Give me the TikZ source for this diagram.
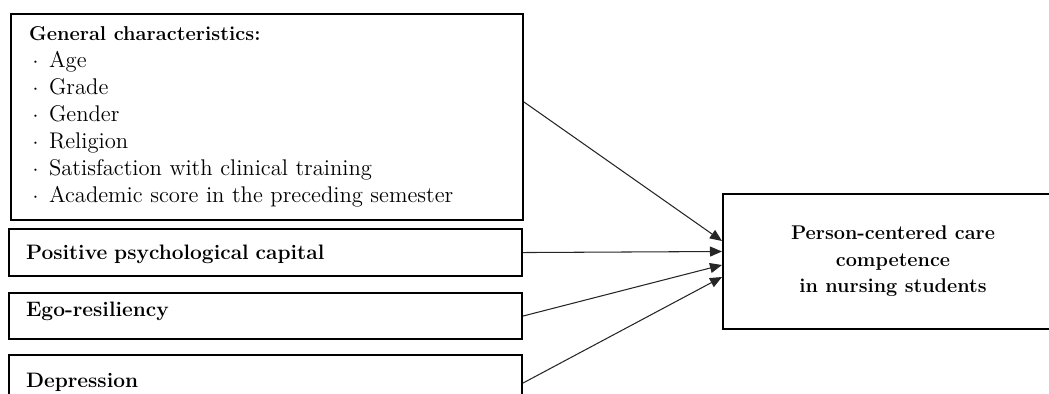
\documentclass[tikz,border=0pt]{standalone}
\usetikzlibrary{arrows.meta}
\newcommand{\bul}{\makebox[0.4cm][l]{\hspace{0.07cm}$\cdot$}}
\begin{document}
\begin{tikzpicture}[x=0.02cm,y=-0.02cm,
	varbox/.style={draw,line width=1.2pt,anchor=north west,inner ysep=0pt,inner xsep=0.34cm,text width=9.58cm,align=left,font=\fontsize{11.9}{15.4}\selectfont\bfseries},
	effect/.style={-{Triangle[length=0.24cm,width=0.2cm]},line width=0.6pt,black!85}]
	\useasboundingbox (0,0) rectangle (1049,394);
	\node[varbox,inner xsep=0.37cm,text width=9.51cm,minimum height=4.12cm,font=\fontsize{12.9}{15.4}\selectfont] (gen) at (9.5,13)
	{{\bfseries\fontsize{11.4}{15.4}\selectfont General characteristics:}\\
	\bul Age\\
	\bul Grade\\
	\bul Gender\\
	\bul Religion\\
	\bul Satisfaction with clinical training\\
	\bul Academic score in the preceding semester};
	\node[varbox,text height=0.6cm,text depth=0.34cm] (cap) at (8,228) {Positive psychological capital};
	\node[varbox,text height=0.46cm,text depth=0.46cm] (ego) at (8,292) {Ego-resiliency};
	\node[varbox,text height=0.64cm,text depth=0.48cm] (dep) at (8,354) {Depression};
	\node[draw,line width=1.2pt,minimum width=6.8cm,minimum height=2.7cm,align=center,font=\fontsize{11.3}{15.1}\selectfont\bfseries] (pcc) at (893,261.5)
	{Person-centered care\\competence\\in nursing students};
	\draw[effect] ([yshift=0.3cm]gen.east) -- ([yshift=0.41cm]pcc.west);
	\draw[effect] (cap.east) -- ([yshift=0.2cm]pcc.west);
	\draw[effect] (ego.east) -- ([yshift=-0.07cm]pcc.west);
	\draw[effect] (dep.east) -- ([yshift=-0.31cm]pcc.west);
\end{tikzpicture}
\end{document}
